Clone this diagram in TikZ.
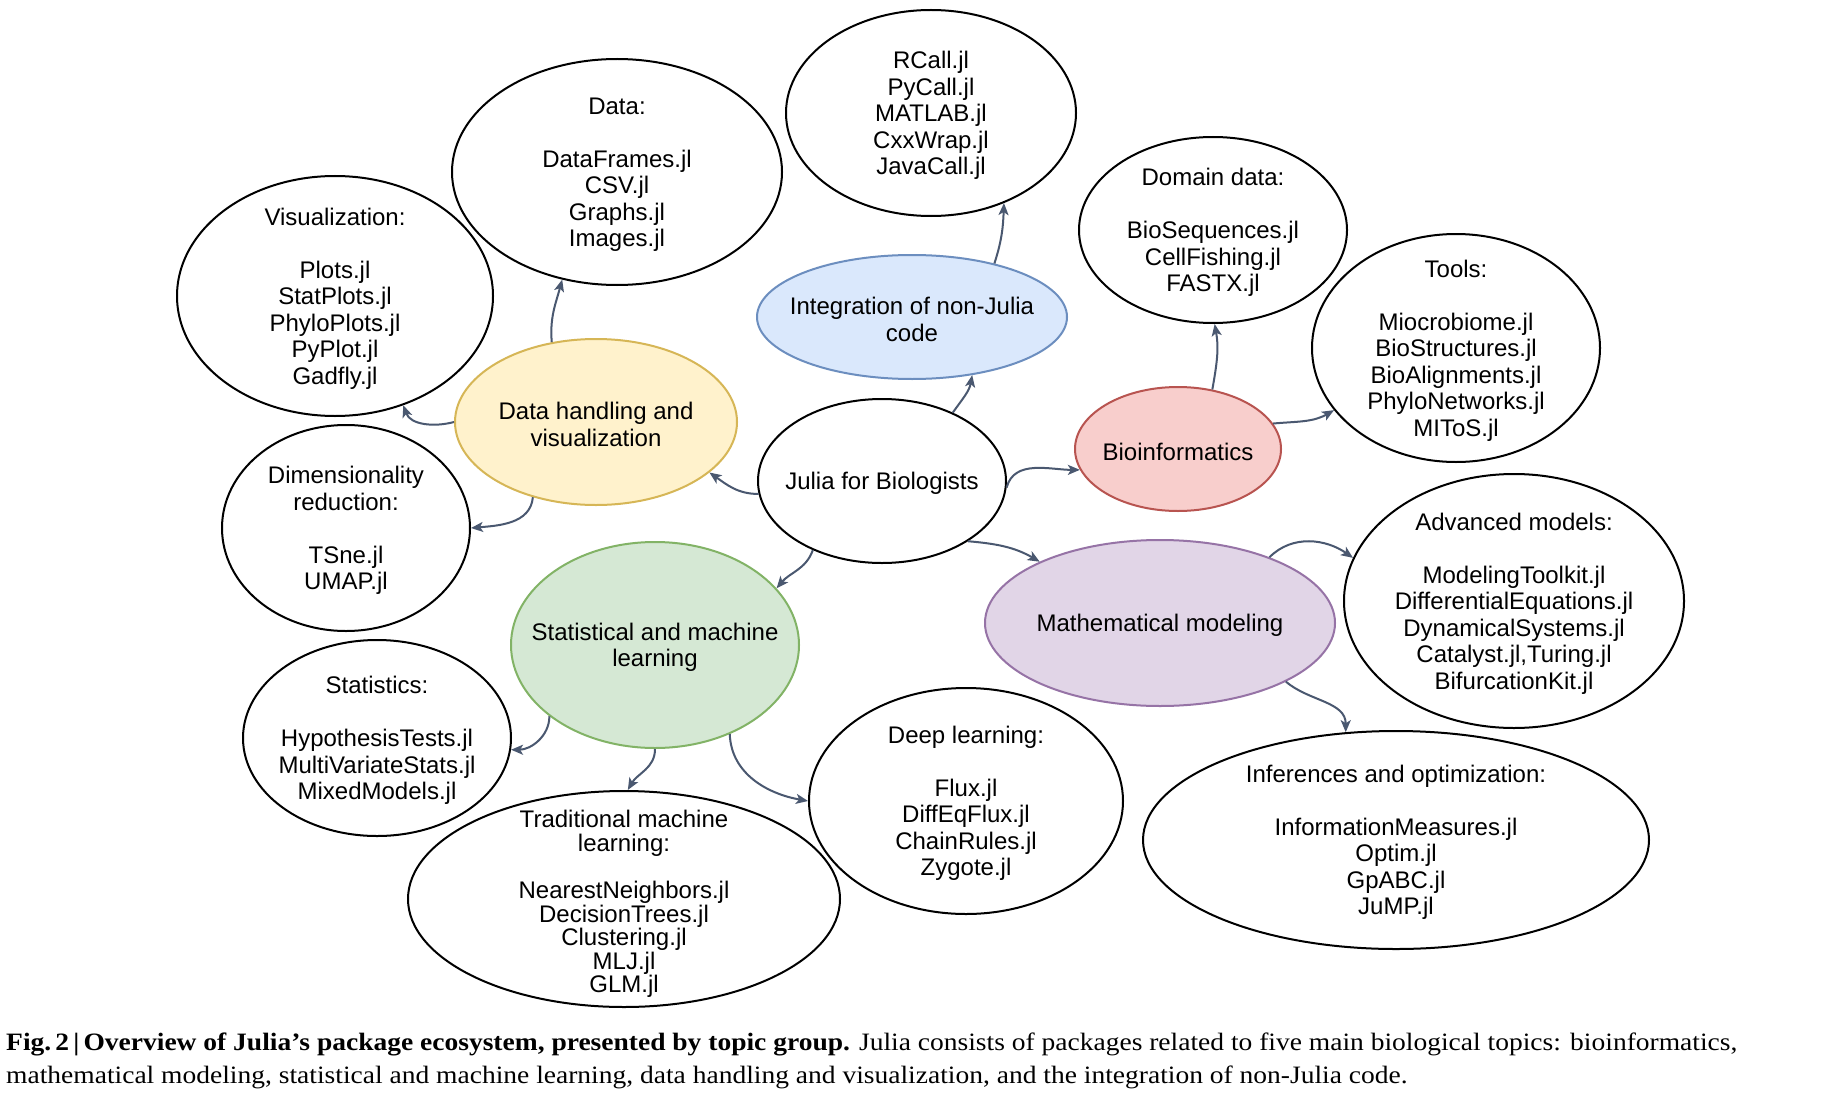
\documentclass[tikz,border=0pt]{standalone}
\usepackage{fontspec}
\setmainfont{Liberation Sans}
\newfontfamily\capfont[FakeStretch=1.1]{Liberation Serif}
\usetikzlibrary{shapes.geometric,arrows.meta}
\definecolor{arrowc}{HTML}{4A5870}
\definecolor{yelF}{HTML}{FFF2CC}\definecolor{yelD}{HTML}{D6B656}
\definecolor{bluF}{HTML}{DAE8FC}\definecolor{bluD}{HTML}{6C8EBF}
\definecolor{redF}{HTML}{F8CECC}\definecolor{redD}{HTML}{B85450}
\definecolor{grnF}{HTML}{D5E8D4}\definecolor{grnD}{HTML}{82B366}
\definecolor{purF}{HTML}{E1D5E7}\definecolor{purD}{HTML}{9673A6}
\begin{document}
\begin{tikzpicture}[x=1pt,y=-1pt,
  bub/.style={ellipse, draw=black, line width=2pt, inner sep=0pt, fill=white},
  lbl/.style={align=center, inner sep=0pt, yshift=-2.5pt, font=\fontsize{24}{26.5}\selectfont},
  lbltight/.style={align=center, inner sep=0pt, yshift=-5pt, font=\fontsize{24}{23.6}\selectfont},
  conn/.style={draw=arrowc, line width=2pt, -{Stealth[length=12pt,width=10pt,inset=3pt]}},
  capstyle/.style={inner sep=0pt, font=\capfont\fontsize{25}{33}\selectfont},
]
\useasboundingbox (0,0) rectangle (1846,1110);
\fill[white] (0,0) rectangle (1846,1110);

% --- ellipses ---
\node[bub, minimum width=290pt, minimum height=206pt,
  label={[lbl]center:{RCall.jl\\PyCall.jl\\MATLAB.jl\\CxxWrap.jl\\JavaCall.jl}}] (rcall) at (931,113) {};
\node[bub, minimum width=330pt, minimum height=226pt,
  label={[lbl]center:{Data:\\[26.5pt]DataFrames.jl\\CSV.jl\\Graphs.jl\\Images.jl}}] (data) at (617,172) {};
\node[bub, minimum width=316pt, minimum height=240pt,
  label={[lbl]center:{Visualization:\\[26.5pt]Plots.jl\\StatPlots.jl\\PhyloPlots.jl\\PyPlot.jl\\Gadfly.jl}}] (vis) at (335,296) {};
\node[bub, fill=yelF, draw=yelD, minimum width=282pt, minimum height=166pt,
  label={[lbl]center:{Data handling and\\visualization}}] (dh) at (596,422) {};
\node[bub, fill=bluF, draw=bluD, minimum width=310pt, minimum height=124pt,
  label={[lbl]center:{Integration of non-Julia\\code}}] (integ) at (912,317) {};
\node[bub, minimum width=268pt, minimum height=186pt,
  label={[lbl]center:{Domain data:\\[26.5pt]BioSequences.jl\\CellFishing.jl\\FASTX.jl}}] (domain) at (1213,230) {};
\node[bub, minimum width=288pt, minimum height=228pt,
  label={[lbl]center:{Tools:\\[26.5pt]Miocrobiome.jl\\BioStructures.jl\\BioAlignments.jl\\PhyloNetworks.jl\\MIToS.jl}}] (tools) at (1456,348) {};
\node[bub, fill=redF, draw=redD, minimum width=206pt, minimum height=124pt,
  label={[lbl]center:{Bioinformatics}}] (bioinf) at (1178,449) {};
\node[bub, minimum width=248pt, minimum height=164pt,
  label={[lbl]center:{Julia for Biologists}}] (julia) at (882,481) {};
\node[bub, minimum width=248pt, minimum height=206pt,
  label={[lbl]center:{Dimensionality\\reduction:\\[26.5pt]TSne.jl\\UMAP.jl}}] (dim) at (346,528) {};
\node[bub, fill=grnF, draw=grnD, minimum width=288pt, minimum height=206pt,
  label={[lbl]center:{Statistical and machine\\learning}}] (stat) at (655,645) {};
\node[bub, fill=purF, draw=purD, minimum width=350pt, minimum height=166pt,
  label={[lbl]center:{Mathematical modeling}}] (math) at (1160,623) {};
\node[bub, minimum width=340pt, minimum height=254pt,
  label={[lbl]center:{Advanced models:\\[26.5pt]ModelingToolkit.jl\\DifferentialEquations.jl\\DynamicalSystems.jl\\Catalyst.jl,Turing.jl\\BifurcationKit.jl}}] (adv) at (1514,601) {};
\node[bub, minimum width=268pt, minimum height=196pt,
  label={[lbl]center:{Statistics:\\[26.5pt]HypothesisTests.jl\\MultiVariateStats.jl\\MixedModels.jl}}] (statistics) at (377,738) {};
\node[bub, minimum width=432pt, minimum height=216pt,
  label={[lbltight]center:{Traditional machine\\learning:\\[23.6pt]NearestNeighbors.jl\\DecisionTrees.jl\\Clustering.jl\\MLJ.jl\\GLM.jl}}] (trad) at (624,899) {};
\node[bub, minimum width=314pt, minimum height=226pt,
  label={[lbl]center:{Deep learning:\\[26.5pt]Flux.jl\\DiffEqFlux.jl\\ChainRules.jl\\Zygote.jl}}] (deep) at (966,801) {};
\node[bub, minimum width=506pt, minimum height=218pt,
  label={[lbl]center:{Inferences and optimization:\\[26.5pt]InformationMeasures.jl\\Optim.jl\\GpABC.jl\\JuMP.jl}}] (infer) at (1396,840) {};

% --- connectors ---
\draw[conn] (dh.119) to[out=95,in=-105] (data.243);
\draw[conn] (dh.180) to[out=195,in=-70] (vis.-58);
\draw[conn] (dh.-130) to[out=-95,in=5] (dim.0);
\draw[conn] (julia.186) to[out=180,in=-35] (dh.-24);
\draw[conn] (julia.44) to[out=55,in=-100] (integ.-44);
\draw[conn] (integ.33) to[out=72,in=-92] (rcall.-51);
\draw[conn] (julia.-3) to[out=75,in=180] (bioinf.192);
\draw[conn] (bioinf.60) to[out=80,in=-80] (domain.-89);
\draw[conn] (bioinf.15) to[out=5,in=-150] (tools.207);
\draw[conn] (julia.-35) to[out=-5,in=150] (math.153);
\draw[conn] (math.31) to[out=45,in=145] (adv.165);
\draw[conn] (math.-25) to[out=-40,in=90] (infer.115);
\draw[conn] (julia.-135) to[out=-110,in=50] (stat.25);
\draw[conn] (stat.-146) to[out=-90,in=0] (statistics.-5);
\draw[conn] (stat.-90) to[out=-90,in=60] (trad.88);
\draw[conn] (stat.-50) to[out=-88,in=170] (deep.180);

% --- caption ---
\node[capstyle, anchor=base west] (cap1) at (6,1050) {\textbf{Fig.\,2\,|\,Overview of Julia’s package ecosystem, presented by topic group.} Julia consists of packages related to five main biological topics: bioinformatics,};
\node[capstyle, anchor=base west] (cap2) at (6,1083) {mathematical modeling, statistical and machine learning, data handling and visualization, and the integration of non-Julia code.};
\end{tikzpicture}
\end{document}
